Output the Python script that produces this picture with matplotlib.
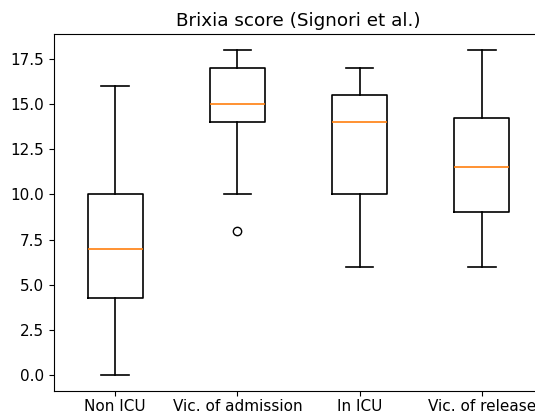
import matplotlib
matplotlib.use("Agg")
import matplotlib.pyplot as plt

categories = ["Non ICU", "Vic. of admission", "In ICU", "Vic. of release"]
whisker_low = [0, 10, 6, 6]
q1 = [4.25, 14, 10, 9]
median = [7, 15, 14, 11.5]
q3 = [10, 17, 15.5, 14.25]
whisker_high = [16, 18, 17, 18]
outliers = [[], [8], [], []]

stats = []
for i, lab in enumerate(categories):
    stats.append(dict(label=lab, whislo=whisker_low[i], q1=q1[i], med=median[i],
                      q3=q3[i], whishi=whisker_high[i], fliers=outliers[i]))

plt.rcParams['font.size'] = 11
DPI = 100
fig = plt.figure(figsize=(535 / DPI, 413 / DPI), dpi=DPI)
ax = fig.add_axes([54 / 535, 22 / 413, 489 / 535, 357 / 413])
ax.bxp(stats, boxprops=dict(linewidth=1.2), whiskerprops=dict(linewidth=1.2),
       capprops=dict(linewidth=1.2), medianprops=dict(linewidth=1.2))
ax.tick_params(axis='x', pad=2.5)
ax.set_title("Brixia score (Signori et al.)")
fig.savefig("out.png", dpi=DPI)
